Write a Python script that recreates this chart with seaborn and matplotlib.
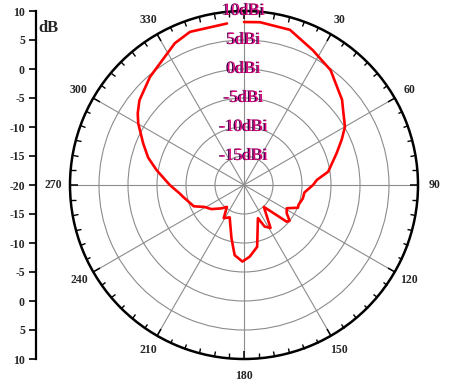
import numpy as np
import pandas as pd
import matplotlib
matplotlib.use("Agg")
import matplotlib.pyplot as plt
import matplotlib.patheffects as pe
from matplotlib.ticker import FixedLocator
import seaborn as sns

# --- DATA ---
angles_deg = [0, 5.6, 16.5, 27, 37, 49, 53, 60, 65, 71, 81, 86, 90, 97, 103, 110,
              112.8, 118.5, 123.3, 128.2, 130.7, 132.8, 137.8, 148.3, 153.6, 157.2,
              168, 175.5, 181.2, 187.6, 193.3, 203.9, 211.4, 218, 224, 233.6, 241,
              247, 259, 262.6, 270, 279.7, 286, 292.4, 300.2, 304, 309, 319, 334,
              340.6, 354]
gain_dbi = [8.1, 8.2, 7.9, 6.1, 4.8, 2.4, 1.4, 0.1, -1.4, -3.1, -5.3, -7.4, -8.1,
            -9.5, -9.6, -10.0, -9.9, -11.6, -11.2, -10.0, -10.3, -12.4, -14.9, -11.3,
            -12.0, -13.8, -9.1, -7.6, -6.8, -7.8, -10.6, -13.9, -13.3, -15.2, -14.4,
            -13.0, -12.2, -10.6, -9.3, -8.8, -7.2, -4.7, -2.8, -1.2, 1.1, 2.1, 3.2,
            4.7, 7.2, 8.0, 8.0]

ring_levels = [10, 5, 0, -5, -10, -15]
ring_labels = ["10dBi", "5dBi", "0dBi", "-5dBi", "-10dBi", "-15dBi"]
theta_ticks = list(range(0, 360, 30))
theta_labels = [""] + [str(t) for t in theta_ticks[1:]]
left_ticks = list(range(-30, 31, 5))
left_labels = [str(-20 + abs(t)) for t in left_ticks]

R_MIN, R_MAX = -20, 10

sns.set_style("white")
plt.rcParams["font.family"] = ["Liberation Serif", "DejaVu Serif"]

fig = plt.figure(figsize=(4.5, 3.85), dpi=100)
ax = fig.add_axes([70 / 450, 26 / 385, 348 / 450, 348 / 385], projection="polar")
ax.set_theta_zero_location("N")
ax.set_theta_direction(-1)
ax.set_rlim(R_MIN, R_MAX)

df = pd.DataFrame({"theta": np.deg2rad(angles_deg + [angles_deg[0]]),
                   "gain": gain_dbi + [gain_dbi[0]]})
sns.lineplot(data=df, x="theta", y="gain", sort=False, color="#ff0000",
             linewidth=1.9, ax=ax, zorder=5)
ax.set_xlabel("")
ax.set_ylabel("")

# grid + angular ticks (tick2 sits on the outer circle, pointing inward)
ax.set_yticks(ring_levels[1:])
ax.set_yticklabels([])
ax.set_xticks(np.deg2rad(theta_ticks))
ax.set_xticklabels(theta_labels, fontsize=8.5, fontweight="bold")
ax.xaxis.set_minor_locator(FixedLocator(np.deg2rad(np.arange(0, 360, 5))))
ax.grid(True, color="#8c8c8c", linewidth=0.8)
ax.tick_params(axis="x", which="both", bottom=False, top=True, direction="in",
               color="black")
ax.tick_params(axis="x", which="major", length=6, width=1.1, pad=5)
ax.tick_params(axis="x", which="minor", length=3.5, width=1.0)
ax.spines["polar"].set_linewidth(1.8)
ax.spines["polar"].set_color("black")

for lev, lab in zip(ring_levels, ring_labels):
    ax.text(0, lev, lab, ha="center", va="center", fontsize=12.5,
            color="#e0007a", zorder=10,
            path_effects=[pe.withSimplePatchShadow(offset=(-1, 0),
                                                  shadow_rgbFace="#3a0048",
                                                  alpha=1.0)])

# left dB scale
lax = fig.add_axes([36 / 450, 26 / 385, 0.001, 348 / 385])
lax.set_ylim(-30, 30)
lax.set_xticks([])
for s in ["top", "right", "bottom"]:
    lax.spines[s].set_visible(False)
lax.spines["left"].set_linewidth(1.6)
lax.spines["left"].set_color("black")
lax.set_yticks(left_ticks)
lax.set_yticklabels(left_labels, fontsize=8.5, fontweight="bold")
lax.tick_params(axis="y", left=True, direction="out", length=5, width=1.2,
                color="black", pad=3)
lax.set_facecolor("none")
fig.text(48 / 450, 1 - 28 / 385, "dB", fontsize=12, fontweight="bold",
         ha="center", va="center")

fig.savefig("out.png", dpi=100)
